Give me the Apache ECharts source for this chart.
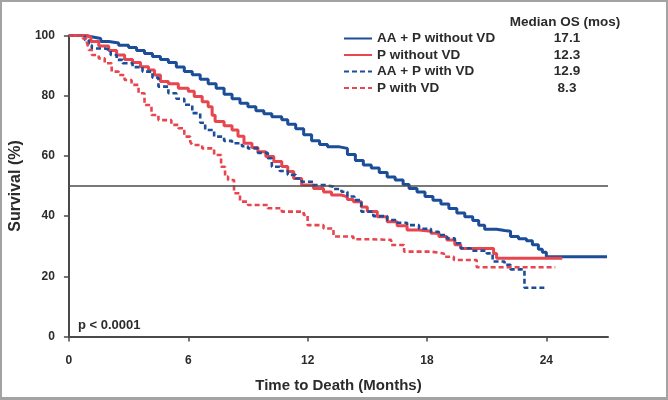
<!DOCTYPE html>
<html>
<head>
<meta charset="utf-8">
<script src="https://cdn.jsdelivr.net/npm/echarts@6/dist/echarts.min.js"></script>
<style>
html, body { margin: 0; padding: 0; background: #fff; }
#wrap { position: relative; width: 668px; height: 400px; }
#chart { position: absolute; left: 0; top: 0; width: 668px; height: 400px; }
#frame { position: absolute; left: 0; top: 0; width: 668px; height: 400px; box-sizing: border-box;
         border: 2px solid #a3a3a3; border-bottom-width: 3px; pointer-events: none; }
</style>
</head>
<body>
<div id="wrap"><div id="chart"></div><div id="frame"></div></div>
<script>
// Kaplan-Meier curves: [months, survival %]
const names = ['AA + P without VD', 'P without VD', 'AA + P with VD', 'P with VD'];
const medians = ['17.1', '12.3', '12.9', '8.3'];
const xTicks = [0, 6, 12, 18, 24];

const aaNoVD = [[0,100],[0.8,99.5],[1.2,99],[1.6,98],[2.0,97.5],[2.5,96.8],[3.0,96],[3.4,95],[3.8,94],[4.2,93],
  [4.6,92],[5.0,91],[5.4,89.5],[5.8,88],[6.2,87],[6.6,85.5],[7.0,84],[7.4,82.5],[7.8,80.5],[8.2,79],[8.6,77.5],
  [9.0,76.3],[9.4,75],[9.8,74],[10.2,73],[10.7,72],[11.0,70.5],[11.4,69],[11.8,67],[12.2,65],[12.6,63.8],[13.0,63],
  [13.6,62.5],[14.0,60.5],[14.4,58.5],[14.8,57],[15.2,56],[15.6,54.5],[16.0,53],[16.4,52],[16.8,50.5],[17.1,49.2],
  [17.5,48],[17.9,46.5],[18.3,45.3],[18.7,44],[19.1,42.5],[19.5,41],[19.9,39.8],[20.3,38.5],[20.6,37],[20.9,35.6],
  [21.5,35.2],[21.9,35],[22.2,33.2],[22.6,32.5],[23.0,31.8],[23.3,30.5],[23.6,29],[23.8,28],[24.0,26.5],[27.05,26.5]];

const pNoVD = [[0,100],[0.9,99.5],[1.1,98],[1.5,96.5],[2.0,95],[2.4,93.5],[2.8,92],[3.2,91],[3.6,89.6],[4.0,88.5],
  [4.3,86.9],[4.6,84.7],[5.0,84],[5.5,82.5],[6.0,81.5],[6.3,79.7],[6.7,78],[7.0,76.3],[7.2,73.5],[7.35,71.4],[7.8,70],
  [8.2,68.6],[8.5,66.5],[8.8,64.2],[9.2,62.8],[9.5,61.4],[9.9,59.8],[10.3,58.1],[10.7,56.5],[11.0,54.8],[11.3,52.5],
  [11.7,50.3],[12.3,49.2],[12.8,48],[13.2,47],[13.7,46.4],[14.0,45.5],[14.3,44.8],[14.7,43],[15.0,41.5],[15.5,39.8],
  [16.0,38.1],[16.5,36.8],[17.0,35.4],[17.6,35],[18.2,34.3],[18.6,33.2],[19.0,32.1],[19.4,30.5],[19.7,29.2],
  [21.35,27.6],[21.5,26],[24.8,26]];

const aaVD = [[0,100],[0.8,98.5],[1.0,96.8],[1.15,95.7],[1.8,95.2],[2.1,93.5],[2.4,91.9],[2.7,90.8],[3.2,89.5],
  [3.7,88],[4.2,86],[4.5,83],[5.0,80.8],[5.4,79],[5.8,77],[6.2,74.2],[6.6,71],[6.85,68.6],[7.3,66.4],[7.8,65],
  [8.2,64.2],[8.7,63.2],[9.0,62.5],[9.5,61],[10.0,59.2],[10.2,56.4],[10.6,55],[11.0,53.7],[11.4,52.5],[11.7,51.4],
  [12.3,50.3],[12.9,49.8],[13.3,49],[13.7,48.1],[14.0,46.5],[14.35,45.3],[14.7,41.5],[15.3,40],[16.0,38.7],
  [16.5,37.8],[17.0,37],[17.6,35.8],[18.2,34.8],[18.6,33.7],[19.0,32.6],[19.4,31],[19.7,29.3],[20.2,28.5],
  [21.0,27.6],[21.3,24.9],[21.9,23.8],[22.2,22.3],[22.9,16.2],[23.9,16.2]];

const pVD = [[0,100],[0.7,99],[0.9,97.9],[1.0,95.2],[1.15,93.5],[1.5,92.4],[1.8,90.8],[2.15,88],[2.5,86.9],
  [2.8,85.2],[3.15,83.6],[3.5,80.8],[3.8,76.9],[4.15,73.6],[4.5,71.9],[5.15,70.3],[5.5,69.2],[5.8,66.4],[6.1,64.7],
  [6.2,63.6],[6.7,62.5],[7.3,60.3],[7.65,56.4],[7.85,53.1],[8.0,52],[8.3,47.6],[8.6,44.8],[9.0,43.7],[10.0,42.6],
  [10.7,41.5],[11.8,40.4],[12.0,37],[12.8,35.9],[13.3,33.2],[14.3,32.3],[15.2,32.1],[16.2,30.4],[16.85,28.2],
  [18.2,27.6],[18.85,26.5],[19.35,25.4],[20.5,23],[24.45,23]];

const BLUE = '#1b4d98';
const RED = '#e8454f';
const FONT = '"Liberation Sans", Arial, sans-serif';
const AXIS = '#4a4a4a';
const INK = '#2b2b2b';

function kmSeries(name, data, color, dashed) {
    return {
        name: name,
        type: 'line',
        step: 'end',
        data: data,
        symbol: 'none',
        showSymbol: false,
        silent: true,
        lineStyle: { color: color, width: dashed ? 2.6 : 3, type: dashed ? [5, 3] : 'solid' },
        itemStyle: { color: color }
    };
}

const chart = echarts.init(document.getElementById('chart'), null, { renderer: 'canvas' });

const option = {
    animation: false,
    backgroundColor: '#fff',
    grid: { left: 67, right: 60, top: 35.5, bottom: 63.5 },
    xAxis: {
        type: 'value',
        min: 0,
        max: 27.1,
        offset: 5.5,
        splitLine: { show: false },
        axisLine: { show: true, lineStyle: { color: AXIS, width: 2 } },
        axisTick: { show: true, length: 5, customValues: xTicks, lineStyle: { color: AXIS, width: 1.5 } },
        axisLabel: { customValues: xTicks, margin: 13, color: INK, fontFamily: FONT, fontWeight: 'bold', fontSize: 12 },
        name: 'Time to Death (Months)',
        nameLocation: 'middle',
        nameGap: 36,
        nameTextStyle: { color: INK, fontFamily: FONT, fontWeight: 'bold', fontSize: 15 }
    },
    yAxis: {
        type: 'value',
        min: 0,
        max: 100,
        interval: 20,
        offset: 3,
        splitLine: { show: false },
        axisLine: { show: true, lineStyle: { color: AXIS, width: 2 } },
        axisTick: { show: true, length: 5, lineStyle: { color: AXIS, width: 1.5 } },
        axisLabel: { margin: 11, color: INK, fontFamily: FONT, fontWeight: 'bold', fontSize: 12 },
        name: 'Survival (%)',
        nameLocation: 'middle',
        nameGap: 30,
        nameTextStyle: { color: INK, fontFamily: FONT, fontWeight: 'bold', fontSize: 16 }
    },
    legend: {
        orient: 'vertical',
        left: 343,
        top: 31.5,
        padding: 0,
        itemWidth: 28,
        itemHeight: 14,
        itemGap: 2.5,
        selectedMode: false,
        itemStyle: { opacity: 0 },
        data: names,
        formatter: function (name) {
            return '{n|' + name + '}{v|' + medians[names.indexOf(name)] + '}';
        },
        textStyle: {
            rich: {
                n: { width: 170, color: INK, fontFamily: FONT, fontWeight: 'bold', fontSize: 13.5 },
                v: { width: 40, align: 'center', color: INK, fontFamily: FONT, fontWeight: 'bold', fontSize: 13.5 }
            }
        }
    },
    graphic: [
        { type: 'text', x: 565, y: 22, silent: true,
          style: { text: 'Median OS (mos)', align: 'center', verticalAlign: 'middle', fill: INK,
                   fontFamily: FONT, fontWeight: 'bold', fontSize: 13.5 } },
        { type: 'text', x: 78, y: 325, silent: true,
          style: { text: 'p < 0.0001', align: 'left', verticalAlign: 'middle', fill: INK,
                   fontFamily: FONT, fontWeight: 'bold', fontSize: 13 } }
    ],
    series: [
        {
            type: 'line',
            data: [],
            silent: true,
            markLine: {
                silent: true,
                symbol: 'none',
                label: { show: false },
                lineStyle: { color: '#4d4d4d', width: 1.5, type: 'solid' },
                data: [{ yAxis: 50 }]
            }
        },
        kmSeries(names[0], aaNoVD, BLUE, false),
        kmSeries(names[1], pNoVD, RED, false),
        kmSeries(names[2], aaVD, BLUE, true),
        kmSeries(names[3], pVD, RED, true)
    ]
};

chart.setOption(option);
</script>
</body>
</html>
